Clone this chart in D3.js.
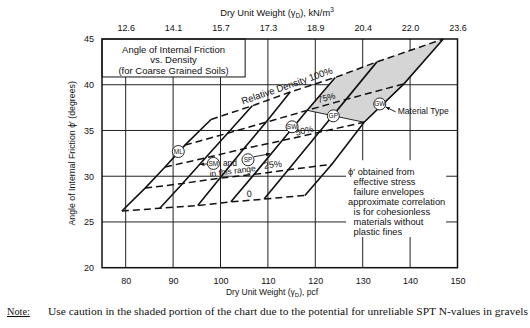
<!DOCTYPE html>
<html>
<head>
<meta charset="utf-8">
<script src="https://cdn.jsdelivr.net/npm/d3@7"></script>
<style>
  html, body { margin: 0; padding: 0; background: #fff; }
  svg { display: block; }
  text { font-family: "Liberation Sans", Arial, sans-serif; fill: #111; }
  .serif { font-family: "Liberation Serif", "Times New Roman", serif; }
</style>
</head>
<body>
<svg id="chart" width="530" height="328"></svg>
<script>
// ---------------- data ----------------
const pcfTicks = [80, 90, 100, 110, 120, 130, 140, 150];
const kNLabels = ["12.6", "14.1", "15.7", "17.3", "18.9", "20.4", "22.0", "23.6"];
const degTicks = [20, 25, 30, 35, 40, 45];
const densityLevels = ["0", "25%", "50%", "75%", "Relative Density 100%"];

// material-type lines: [dry unit weight pcf, friction angle deg] at relative density 0,25,50,75,100 %
const line1 = [[79.2, 26.2], [84.1, 28.7], [88.3, 31.0], [92.5, 33.4], [98.0, 36.2]];
const line2 = [[87.2, 26.5], [92.0, 29.2], [96.8, 32.0], [101.5, 34.7], [106.7, 37.7]];
const line3 = [[95.2, 26.8], [99.9, 29.8], [104.9, 33.0], [109.6, 35.9], [114.7, 39.2]];
const line4 = [[102.2, 27.2], [107.1, 30.2], [113.0, 33.9], [118.3, 37.2], [124.2, 40.8]];
const line5 = [[109.2, 27.5], [114.3, 30.7], [120.8, 34.8], [126.5, 38.4], [133.0, 42.5]];
const line6 = [[117.8, 27.9], [123.5, 31.3], [130.3, 35.9], [138.7, 40.1], [147.0, 45.0]];
const materialLines = [line1, line2, line3, line4, line5, line6];

// shaded (gravel) region
const shaded = [line4[3], line4[4], line5[4], line6[4], line6[3], line6[2]];

// material type markers
const typeNames = ["ML", "SM", "SP", "SW", "GP", "GW"];
const typePcf   = [91.1, 98.5, 105.8, 115.1, 123.8, 133.6];
const typeDeg   = [32.7, 31.4, 31.8, 35.4, 36.6, 37.9];

// density label anchor points
const levelPcf = [106.1, 111.1, 117.8, 122.5, 114.2];
const levelDeg = [27.8, 31.0, 34.7, 38.3, 39.6];

const titleLines = ["Angle of Internal Friction", "vs. Density", "(for Coarse Grained Soils)"];
const noteLines = ["ϕ' obtained from", "effective stress", "failure envelopes",
                   "approximate correlation", "is for cohesionless", "materials without", "plastic fines"];
const noteIndent = [0, 1, 1, 0, 1, 1, 1];

// ---------------- drawing ----------------
const svg = d3.select("#chart");
svg.append("rect").attr("width", 530).attr("height", 328).attr("fill", "#fff");

const x = d3.scaleLinear().domain([75, 150]).range([102, 457.5]);
const y = d3.scaleLinear().domain([20, 45]).range([267.7, 39]);

const defs = svg.append("defs");
defs.append("marker").attr("id", "arr").attr("viewBox", "0 0 10 10")
  .attr("refX", 9).attr("refY", 5).attr("markerWidth", 5).attr("markerHeight", 5)
  .attr("orient", "auto")
  .append("path").attr("d", "M0,1 L10,5 L0,9 Z").attr("fill", "#111");

// grid
const g = svg.append("g");
g.selectAll(".vg").data(pcfTicks.filter(d => d < 150)).join("line")
  .attr("x1", d => x(d)).attr("x2", d => x(d))
  .attr("y1", y(20)).attr("y2", y(45))
  .attr("stroke", "#222").attr("stroke-width", 1);
g.selectAll(".hg").data(degTicks.filter(d => d > 20 && d < 45)).join("line")
  .attr("x1", x(75)).attr("x2", x(150))
  .attr("y1", d => y(d)).attr("y2", d => y(d))
  .attr("stroke", "#222").attr("stroke-width", 1);

// white box behind note text
svg.append("rect")
  .attr("x", x(126.5)).attr("y", y(31.75))
  .attr("width", x(147.6) - x(126.5)).attr("height", y(23.35) - y(31.75))
  .attr("fill", "#fff");

// title box
svg.append("rect")
  .attr("x", x(75)).attr("y", y(45))
  .attr("width", x(105.2) - x(75)).attr("height", y(40.85) - y(45))
  .attr("fill", "#fff").attr("stroke", "#111").attr("stroke-width", 1);
svg.selectAll(".tt").data(titleLines).join("text")
  .attr("x", (x(75) + x(105.2)) / 2)
  .attr("y", (d, i) => y(45) + 13.5 + i * 10.5)
  .attr("text-anchor", "middle").attr("font-size", 9.5)
  .text(d => d);

// shaded region
const line = d3.line().x(d => x(d[0])).y(d => y(d[1]));
svg.append("path").datum(shaded)
  .attr("d", d => line(d) + "Z")
  .attr("fill", "#d5d5d5").attr("stroke", "none");
svg.append("path").datum([line4[3], line6[2]])
  .attr("d", line).attr("fill", "none").attr("stroke", "#111").attr("stroke-width", 0.9);

// relative density (dashed) lines
densityLevels.forEach((lab, j) => {
  svg.append("path").datum(materialLines.map(m => m[j]))
    .attr("d", line).attr("fill", "none")
    .attr("stroke", "#111").attr("stroke-width", 1.5)
    .attr("stroke-dasharray", "7,4");
});

// material (solid) lines
svg.selectAll(".ml").data(materialLines).join("path")
  .attr("d", line).attr("fill", "none")
  .attr("stroke", "#111").attr("stroke-width", 1.6);

// density labels (sit just above their dashed line)
densityLevels.forEach((lab, j) => {
  const a = materialLines[0][j], b = materialLines[5][j];
  const ang = Math.atan2(y(b[1]) - y(a[1]), x(b[0]) - x(a[0])) * 180 / Math.PI;
  const px = x(levelPcf[j]), py = y(levelDeg[j]);
  svg.append("text")
    .attr("transform", `translate(${px},${py}) rotate(${ang})`)
    .attr("text-anchor", "middle").attr("dy", "0.05em")
    .attr("font-size", j === 4 ? 9.5 : 9)
    .text(lab);
});

// "and" / "in this range"
svg.append("text").attr("x", x(102.0)).attr("y", y(31.4)).attr("dy", "0.35em")
  .attr("text-anchor", "middle").attr("font-size", 8.5).text("and");
svg.append("text")
  .attr("transform", `translate(${x(102.6)},${y(30.4)}) rotate(-7)`)
  .attr("text-anchor", "middle").attr("dy", "0.15em").attr("font-size", 8.5)
  .text("in this range");

// arrows SM, SP, Material type
svg.append("line")
  .attr("x1", x(typePcf[1]) - 6).attr("y1", y(typeDeg[1]) + 0.5)
  .attr("x2", x(typePcf[1]) - 13).attr("y2", y(typeDeg[1]) + 1)
  .attr("stroke", "#111").attr("stroke-width", 0.9).attr("marker-end", "url(#arr)");
svg.append("line")
  .attr("x1", x(typePcf[2]) + 6).attr("y1", y(typeDeg[2]) - 3)
  .attr("x2", x(typePcf[2]) + 22).attr("y2", y(typeDeg[2]) - 6)
  .attr("stroke", "#111").attr("stroke-width", 0.9).attr("marker-end", "url(#arr)");
svg.append("line")
  .attr("x1", x(typePcf[5]) + 16).attr("y1", y(typeDeg[5]) + 8)
  .attr("x2", x(typePcf[5]) + 6).attr("y2", y(typeDeg[5]) + 3)
  .attr("stroke", "#111").attr("stroke-width", 0.9).attr("marker-end", "url(#arr)");
svg.append("text").attr("x", x(typePcf[5]) + 18).attr("y", y(typeDeg[5]) + 10.5)
  .attr("font-size", 8.5).text("Material Type");

// material type circles
const mt = svg.selectAll(".mt").data(typeNames).join("g")
  .attr("transform", (d, i) => `translate(${x(typePcf[i])},${y(typeDeg[i])})`);
mt.append("circle").attr("r", 6).attr("fill", "#fff").attr("stroke", "#111").attr("stroke-width", 0.9);
mt.append("text").attr("text-anchor", "middle").attr("dy", "0.35em")
  .attr("font-size", 6.5).text(d => d);

// note text
svg.selectAll(".nt").data(noteLines).join("text")
  .attr("x", (d, i) => x(126.5) + 2 + noteIndent[i] * 5.5)
  .attr("y", (d, i) => y(31.75) + 14.5 + i * 10.1)
  .attr("font-size", 9.3).text(d => d);

// frame
svg.append("rect").attr("x", x(75)).attr("y", y(45))
  .attr("width", x(150) - x(75)).attr("height", y(20) - y(45))
  .attr("fill", "none").attr("stroke", "#111").attr("stroke-width", 1.5);

// axes (labels only)
const bottomAxis = d3.axisBottom(x).tickValues(pcfTicks).tickSize(0).tickPadding(10);
svg.append("g").attr("transform", `translate(0,${y(20)})`).call(bottomAxis)
  .call(s => s.select(".domain").remove())
  .selectAll("text").attr("font-size", 9).attr("font-family", "Liberation Sans, Arial, sans-serif").attr("fill", "#111");

const topAxis = d3.axisTop(x).tickValues(pcfTicks).tickFormat((d, i) => kNLabels[i]).tickSize(0).tickPadding(8);
svg.append("g").attr("transform", `translate(0,${y(45)})`).call(topAxis)
  .call(s => s.select(".domain").remove())
  .selectAll("text").attr("font-size", 9).attr("font-family", "Liberation Sans, Arial, sans-serif").attr("fill", "#111");

const leftAxis = d3.axisLeft(y).tickValues(degTicks).tickSize(0).tickPadding(8);
svg.append("g").attr("transform", `translate(${x(75)},0)`).call(leftAxis)
  .call(s => s.select(".domain").remove())
  .selectAll("text").attr("font-size", 9).attr("font-family", "Liberation Sans, Arial, sans-serif").attr("fill", "#111");

// axis titles
const bt = svg.append("text").attr("x", 272).attr("y", 295).attr("text-anchor", "middle").attr("font-size", 8.5);
bt.append("tspan").text("Dry Unit Weight (γ");
bt.append("tspan").attr("font-size", 6).attr("dy", 2).text("D");
bt.append("tspan").attr("dy", -2).text("), pcf");

const tt = svg.append("text").attr("x", 277).attr("y", 16).attr("text-anchor", "middle").attr("font-size", 9.3);
tt.append("tspan").text("Dry Unit Weight (γ");
tt.append("tspan").attr("font-size", 6.5).attr("dy", 2).text("D");
tt.append("tspan").attr("dy", -2).text("), kN/m");
tt.append("tspan").attr("font-size", 6.5).attr("dy", -4).text("3");

svg.append("text")
  .attr("transform", `translate(75,${(y(20) + y(45)) / 2}) rotate(-90)`)
  .attr("text-anchor", "middle").attr("font-size", 8.8)
  .text("Angle of Internal Friction ϕ' (degrees)");

// footnote
svg.append("text").attr("class", "serif").attr("x", 7).attr("y", 315)
  .attr("font-size", 10.3).attr("text-decoration", "underline").text("Note:");
svg.append("text").attr("class", "serif").attr("x", 48).attr("y", 315)
  .attr("font-size", 10.3).attr("textLength", 480).attr("lengthAdjust", "spacingAndGlyphs")
  .text("Use caution in the shaded portion of the chart due to the potential for unreliable SPT N-values in gravels");
</script>
</body>
</html>
